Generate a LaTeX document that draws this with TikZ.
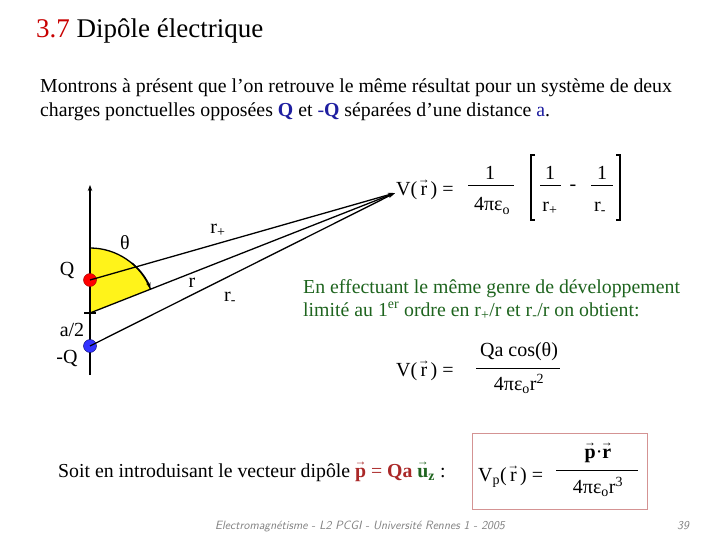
\documentclass[tikz,border=0pt]{standalone}
\usepackage{amsmath}
\usepackage{fontspec}
\setmainfont{Liberation Serif}
\usetikzlibrary{arrows.meta}
\definecolor{tred}{RGB}{200,0,0}
\definecolor{dgreen}{RGB}{30,100,30}
\definecolor{dblue}{RGB}{30,30,160}
\definecolor{bred}{RGB}{170,40,40}
\newcommand{\myvec}[1]{\ooalign{#1\cr\hidewidth\raisebox{0.6em}{\smash{\fontsize{12}{12}\selectfont\bfseries →}}\hidewidth\cr}}
\newcommand{\myeps}{4πε\textsubscript{o}}
\begin{document}
\begin{tikzpicture}[x=1pt,y=-1pt,
  txt/.style={inner sep=0pt,anchor=base west,font=\fontsize{19.8}{22}\selectfont},
  lab/.style={inner sep=0pt,font=\fontsize{20}{22}\selectfont},
  fm/.style={inner sep=0pt,font=\fontsize{20}{22}\selectfont},
  ln/.style={line width=1.3pt,-{Stealth[length=7pt,width=4pt]}}]
\useasboundingbox (0,0) rectangle (720,540);
\node[txt,font=\fontsize{27}{30}\selectfont] (title) at (36,38) {\textcolor{tred}{3.7} Dipôle électrique};
\node[txt] (p1) at (40,93) {Montrons à présent que l’on retrouve le même résultat pour un système de deux};
\node[txt] (p2) at (40,117) {charges ponctuelles opposées \textcolor{dblue}{\textbf{Q}} et \textcolor{dblue}{-\textbf{Q}} séparées d’une distance \textcolor{dblue}{a}.};
% geometry
\coordinate (O) at (90,313);
\coordinate (V) at (395,193);
\fill[yellow!90!white] (O) -- (90,248) arc[start angle=-90,end angle=-21.5,radius=65] -- cycle;
\draw[line width=1.3pt] (90,248) arc[start angle=-90,end angle=-21.5,radius=65];
\draw[line width=1.3pt,-{Stealth[length=6pt]}] (132,263) arc[start angle=-50,end angle=-22,radius=65];
\draw[line width=1.6pt,-{Stealth[length=6pt]}] (90,375) -- (90,185);
\draw[line width=1.5pt] (84,313) -- (96,313);
\node[circle,fill=red,draw=red!60!black,minimum size=13pt,inner sep=0pt] (q) at (90,280) {};
\node[circle,fill=blue!80!white,draw=blue!40!black,minimum size=13pt,inner sep=0pt] (mq) at (90,346) {};
\draw[ln] (q.center) -- (V);
\draw[ln] (O) -- (V);
\draw[ln] (mq.center) -- (V);
\node[lab] (lQ) at (67,270) {Q};
\node[lab] (lmQ) at (67,358) {-Q};
\node[lab] (la2) at (72,330) {a/2};
\node[lab] (lth) at (125,243) {θ};
\node[lab] (lrp) at (218,230) {r\textsubscript{+}};
\node[lab] (lr) at (192,283) {r};
\node[lab] (lrm) at (230,298) {r\textsubscript{-}};
% formula 1
\node[txt,font=\fontsize{20}{22}\selectfont] (f1) at (396,196) {V(\,\myvec{r}\,) =};
\node[fm] (n1) at (490,173) {1};
\draw[line width=0.6pt] (468,185) -- (514,185);
\node[fm] (d1) at (492,206) {\myeps};
\node[fm] (n2) at (550,173) {1};
\draw[line width=0.6pt] (540,185) -- (561,185);
\node[fm] (d2) at (550,208) {r\textsubscript{+}};
\node[fm] (mi) at (573,188) {-};
\node[fm] (n3) at (602,173) {1};
\draw[line width=0.6pt] (591,185) -- (613,185);
\node[fm] (d3) at (600,208) {r\textsubscript{-}};
\draw[line width=1.5pt] (535,155) -- (531,155) -- (531,220) -- (535,220);
\draw[line width=1.5pt] (616,155) -- (620,155) -- (620,220) -- (616,220);
% green text
\node[txt,text=dgreen] (g1) at (303,293) {En effectuant le même genre de développement};
\node[txt,text=dgreen] (g2) at (303,316) {limité au 1\textsuperscript{er} ordre en r\textsubscript{+}/r et r\textsubscript{-}/r on obtient:};
% formula 2
\node[txt,font=\fontsize{20}{22}\selectfont] (f2) at (396,376) {V(\,\myvec{r}\,) =};
\node[fm] (n4) at (519,352) {Qa cos(θ)};
\draw[line width=0.6pt] (476,368) -- (560,368);
\node[fm] (d4) at (519,384) {\myeps r\textsuperscript{2}};
% last line
\node[txt] (s1) at (58,477) {Soit en introduisant le vecteur dipôle \textcolor{bred}{\textbf{\myvec{p}} = \textbf{Qa}} \textcolor{dgreen}{\textbf{\myvec{u}\textsubscript{z}}} :};
\draw[bred!50,line width=0.8pt] (472,433) rectangle (647,509);
\node[txt,font=\fontsize{20}{22}\selectfont] (f3) at (478,481) {V\textsubscript{p}(\,\myvec{r}\,) =};
\node[fm] (n5) at (598,454) {\textbf{\myvec{p}}·\textbf{\myvec{r}}};
\draw[line width=0.6pt] (556,470) -- (638,470);
\node[fm] (d5) at (598,487) {\myeps r\textsuperscript{3}};
\node[inner sep=0pt,font=\fontsize{12}{14}\selectfont\itshape\sffamily,text=gray] (foot) at (360,526) {Electromagnétisme - L2 PCGI - Université Rennes 1 - 2005};
\node[inner sep=0pt,font=\fontsize{12}{14}\selectfont\itshape\sffamily,text=gray] (pg) at (683,526) {39};
\end{tikzpicture}
\end{document}
